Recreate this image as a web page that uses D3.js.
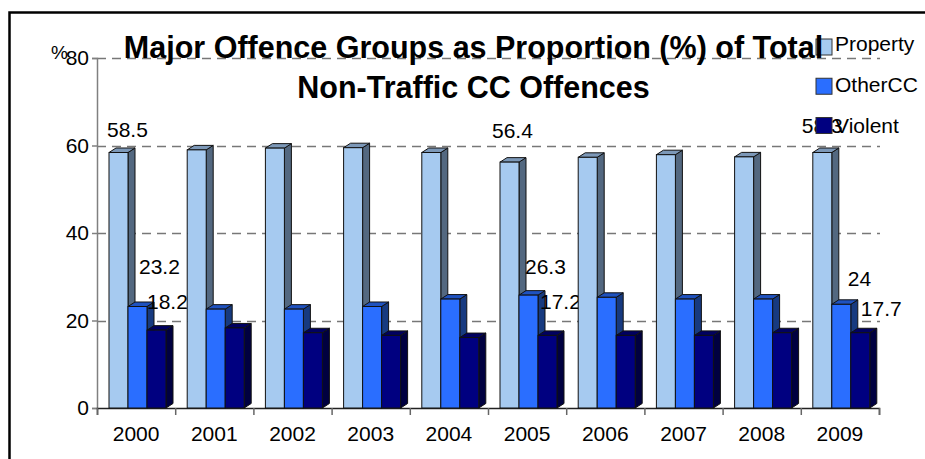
<!DOCTYPE html>
<html>
<head>
<meta charset="utf-8">
<script src="https://cdn.jsdelivr.net/npm/d3@7"></script>
<style>
  html, body { margin: 0; padding: 0; background: #fff; overflow: hidden; }
  text { font-family: "Liberation Sans", Arial, sans-serif; fill: #000; }
</style>
</head>
<body>
<script>
var years = ["2000", "2001", "2002", "2003", "2004", "2005", "2006", "2007", "2008", "2009"];
var seriesNames = ["Property", "OtherCC", "Violent"];
var property = [58.4, 59.0, 59.4, 59.5, 58.4, 56.2, 57.3, 57.9, 57.4, 58.4];
var otherCC = [23.2, 22.6, 22.6, 23.2, 24.9, 25.8, 25.3, 24.9, 24.9, 23.7];
var violent = [17.8, 18.3, 17.2, 16.6, 16.1, 16.6, 16.6, 16.6, 17.2, 17.2];
var yTicks = [0, 20, 40, 60, 80];
var titleLines = ["Major Offence Groups as Proportion (%) of Total", "Non-Traffic CC Offences"];

// data labels as printed in the chart (year index, series index, text)
var labelYear = [0, 0, 0, 5, 5, 5, 9, 9, 9];
var labelSeries = [0, 1, 2, 0, 1, 2, 0, 1, 2];
var labelText = ["58.5", "23.2", "18.2", "56.4", "26.3", "17.2", "58.3", "24", "17.7"];
// label offset from the top left corner of its bar
var labelDx = [-2, 11, 0, -8, 6, 2, -11, 16, 10];
var labelDy = [-16, -32.5, -21, -24, -21, -26.5, -20, -18.5, -17];

var width = 925;
var height = 459;
var margin = { left: 97, right: 46, top: 58, bottom: 51 };
var depthX = 7;
var depthY = 4.5;
var barWidth = 19;

var values = [property, otherCC, violent];
var fronts = ["#a6caf0", "#2a6eff", "#000080"];
var tops = ["#7c98b8", "#1f52bf", "#000060"];
var sides = ["#536880", "#173a80", "#000040"];

var svg = d3.select("body").append("svg")
    .attr("width", width)
    .attr("height", height);

// outer frame, only the top and left edges are in the picture
svg.append("path")
    .attr("d", "M9.5,459V12.5H925")
    .attr("fill", "none")
    .attr("stroke", "#000")
    .attr("stroke-width", 2.5);

var x = d3.scaleBand()
    .domain(years)
    .range([margin.left, width - margin.right]);

var xEdges = d3.scaleLinear()
    .domain([0, years.length])
    .range([margin.left, width - margin.right]);

var y = d3.scaleLinear()
    .domain([0, 80])
    .range([height - margin.bottom, margin.top]);

var barX = function (yearIndex, s) {
    return x(years[yearIndex]) + 12 + s * barWidth;
};

// gridlines
svg.append("g")
    .selectAll("line")
    .data(yTicks.slice(1))
    .join("line")
    .attr("x1", margin.left)
    .attr("x2", width - margin.right + 1)
    .attr("y1", d => Math.round(y(d)) + 0.5)
    .attr("y2", d => Math.round(y(d)) + 0.5)
    .attr("stroke", "#777")
    .attr("stroke-width", 1.5)
    .attr("stroke-dasharray", "9,6");

// axes
var yAxis = d3.axisLeft(y)
    .tickValues(yTicks)
    .tickSize(5)
    .tickPadding(3);

var yAxisGroup = svg.append("g")
    .attr("transform", "translate(" + margin.left + ",0)")
    .call(yAxis);
yAxisGroup.selectAll("path, line").attr("stroke", "#808080").attr("stroke-width", 1.5);
yAxisGroup.selectAll("text").attr("font-size", 21).attr("font-family", null);

var edgeAxis = d3.axisBottom(xEdges)
    .tickValues(d3.range(years.length + 1))
    .tickSize(7)
    .tickFormat("");

var edgeGroup = svg.append("g")
    .attr("transform", "translate(0," + y(0) + ")")
    .call(edgeAxis);
edgeGroup.select("path").attr("stroke", "#222").attr("stroke-width", 1.5);
edgeGroup.selectAll("line").attr("stroke", "#666").attr("stroke-width", 1.5);

var xAxis = d3.axisBottom(x)
    .tickSize(0)
    .tickPadding(18);

var xAxisGroup = svg.append("g")
    .attr("transform", "translate(0," + y(0) + ")")
    .call(xAxis);
xAxisGroup.select("path").remove();
xAxisGroup.selectAll("text").attr("font-size", 21).attr("font-family", null);

svg.append("text")
    .attr("x", 51)
    .attr("y", 59)
    .attr("font-size", 19)
    .text("%");

// 3d bars, one year at a time: a year's labels cover its own bars, the next year covers them
years.forEach(function (year, i) {
    var yearGroup = svg.append("g").attr("class", "year-" + year);

    var bars = yearGroup.selectAll("g")
        .data(seriesNames)
        .join("g");

    bars.append("path")
        .attr("fill", (d, s) => sides[s])
        .attr("d", function (d, s) {
            var v = values[s][i];
            var r = barX(i, s) + barWidth;
            return d3.line()([[r, y(v)], [r + depthX, y(v) - depthY], [r + depthX, y(0) - depthY], [r, y(0)]]) + "Z";
        });

    bars.append("path")
        .attr("fill", (d, s) => tops[s])
        .attr("d", function (d, s) {
            var v = values[s][i];
            var l = barX(i, s);
            return d3.line()([[l, y(v)], [l + depthX, y(v) - depthY], [l + barWidth + depthX, y(v) - depthY], [l + barWidth, y(v)]]) + "Z";
        });

    bars.append("rect")
        .attr("x", (d, s) => barX(i, s))
        .attr("y", (d, s) => y(values[s][i]))
        .attr("width", barWidth)
        .attr("height", (d, s) => y(0) - y(values[s][i]))
        .attr("fill", (d, s) => fronts[s]);

    bars.selectAll("path, rect")
        .attr("stroke", "#111")
        .attr("stroke-width", 1);

    labelText.forEach(function (text, k) {
        if (labelYear[k] !== i) return;
        yearGroup.append("text")
            .attr("x", barX(i, labelSeries[k]) + labelDx[k])
            .attr("y", y(values[labelSeries[k]][i]) + labelDy[k])
            .attr("font-size", 21)
            .text(text);
    });
});

// legend
var legendY = d3.scalePoint()
    .domain(seriesNames)
    .range([39, 117.5]);

var legendTextY = d3.scalePoint()
    .domain(seriesNames)
    .range([51, 132.5]);

var legend = svg.append("g")
    .selectAll("g")
    .data(seriesNames)
    .join("g");

legend.append("rect")
    .attr("x", 816)
    .attr("y", d => legendY(d))
    .attr("width", 16)
    .attr("height", 16)
    .attr("fill", (d, i) => fronts[i])
    .attr("stroke", "#333")
    .attr("stroke-width", 1);

legend.append("text")
    .attr("x", 835)
    .attr("y", d => legendTextY(d))
    .attr("font-size", 21)
    .text(d => d);

// title sits on top of everything
svg.append("g")
    .selectAll("text")
    .data(titleLines)
    .join("text")
    .attr("x", 473.5)
    .attr("y", (d, i) => 58 + i * 40)
    .attr("text-anchor", "middle")
    .attr("font-size", 30.5)
    .attr("font-weight", "bold")
    .text(d => d);
</script>
</body>
</html>
